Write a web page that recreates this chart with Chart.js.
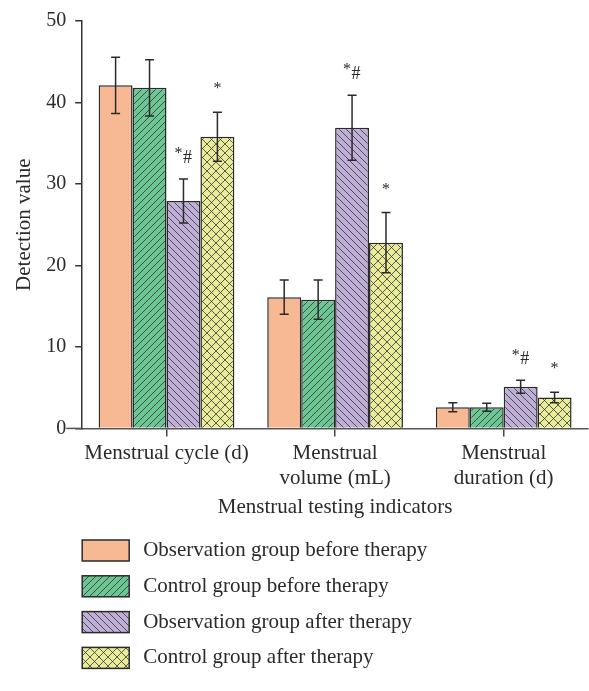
<!DOCTYPE html>
<html><head><meta charset="utf-8">
<script src="https://cdn.jsdelivr.net/npm/chart.js@4"></script>
<style>html,body{margin:0;padding:0;background:#fff;}#wrap{width:589px;height:691px;position:relative;}</style>
</head><body><div id="wrap"><canvas id="c"></canvas></div>
<script>
// ---- data ----
const categories = [["Menstrual cycle (d)"], ["Menstrual", "volume (mL)"], ["Menstrual", "duration (d)"]];
const seriesNames = ["Observation group before therapy", "Control group before therapy", "Observation group after therapy", "Control group after therapy"];
const obsBefore = [42.1, 16.1, 2.6];
const ctrlBefore = [41.8, 15.8, 2.6];
const obsAfter = [27.9, 36.9, 5.1];
const ctrlAfter = [35.8, 22.8, 3.8];
const obsBeforeErr = [3.45, 2.1, 0.55];
const ctrlBeforeErr = [3.45, 2.4, 0.5];
const obsAfterErr = [2.7, 4.0, 0.8];
const ctrlAfterErr = [3.0, 3.7, 0.65];
const obsBeforeSig = ["", "", ""];
const ctrlBeforeSig = ["", "", ""];
const obsAfterSig = ["*#", "*#", "*#"];
const ctrlAfterSig = ["*", "*", "*"];
const yTicks = [0, 10, 20, 30, 40, 50];
const xTitle = "Menstrual testing indicators";
const yTitle = "Detection value";

// ---- styles ----
const FONT = "'Liberation Serif', 'Times New Roman', serif";
const INK = '#2a2a2a';
function makePattern(bg, type, s) {
  if (type === 'solid') return bg;
  const c = document.createElement('canvas');
  c.width = s; c.height = s;
  const g = c.getContext('2d');
  g.fillStyle = bg; g.fillRect(0, 0, s, s);
  g.strokeStyle = 'rgba(45,45,45,0.85)';
  g.lineWidth = 0.9;
  const fwd = () => { g.beginPath(); g.moveTo(-1, s + 1); g.lineTo(s + 1, -1); g.moveTo(-1, 1); g.lineTo(1, -1); g.moveTo(s - 1, s + 1); g.lineTo(s + 1, s - 1); g.stroke(); };
  const back = () => { g.beginPath(); g.moveTo(-1, -1); g.lineTo(s + 1, s + 1); g.moveTo(s - 1, -1); g.lineTo(s + 1, 1); g.moveTo(-1, s - 1); g.lineTo(1, s + 1); g.stroke(); };
  if (type === 'fwd') fwd();
  if (type === 'back') back();
  if (type === 'cross') { fwd(); back(); }
  return g.createPattern(c, 'repeat');
}
const fills = [
  makePattern('#F7B993', 'solid', 7),
  makePattern('#6DC594', 'fwd', 7),
  makePattern('#BFAFD6', 'back', 7),
  makePattern('#E9EC9B', 'cross', 9)
];
const values = [obsBefore, ctrlBefore, obsAfter, ctrlAfter];
const errs = [obsBeforeErr, ctrlBeforeErr, obsAfterErr, ctrlAfterErr];
const sigs = [obsBeforeSig, ctrlBeforeSig, obsAfterSig, ctrlAfterSig];

const datasets = seriesNames.map((n, i) => ({
  label: n, data: values[i], err: errs[i], sig: sigs[i],
  backgroundColor: fills[i], borderColor: INK, borderWidth: 1.5,
  barPercentage: 1.0, categoryPercentage: 0.805
}));

const extras = {
  id: 'extras',
  afterDatasetsDraw(chart) {
    const ctx = chart.ctx, y = chart.scales.y;
    ctx.save();
    chart.data.datasets.forEach((ds, di) => {
      const meta = chart.getDatasetMeta(di);
      meta.data.forEach((bar, i) => {
        const v = ds.data[i], e = ds.err[i];
        const yt = y.getPixelForValue(v + e), yb = y.getPixelForValue(v - e);
        ctx.strokeStyle = INK; ctx.lineWidth = 1.5;
        ctx.beginPath();
        ctx.moveTo(bar.x, yt); ctx.lineTo(bar.x, yb);
        ctx.moveTo(bar.x - 4.5, yt); ctx.lineTo(bar.x + 4.5, yt);
        ctx.moveTo(bar.x - 4.5, yb); ctx.lineTo(bar.x + 4.5, yb);
        ctx.stroke();
        const s = ds.sig[i];
        if (s) {
          ctx.fillStyle = INK;
          ctx.textAlign = 'center'; ctx.textBaseline = 'middle';
          if (s === '*#') {
            ctx.font = '16px ' + FONT;
            ctx.fillText('*', bar.x - 5, yt - 25);
            ctx.font = '18px ' + FONT;
            ctx.fillText('#', bar.x + 4, yt - 21);
          } else {
            ctx.font = '16px ' + FONT;
            ctx.fillText('*', bar.x, yt - 23);
          }
        }
      });
    });
    // x axis line extension to the left of the y axis
    const a = chart.chartArea;
    ctx.strokeStyle = '#555'; ctx.lineWidth = 1.5;
    ctx.beginPath(); ctx.moveTo(a.left - 16, a.bottom); ctx.lineTo(a.left, a.bottom); ctx.stroke();
    // legend
    const lx = a.left, ly0 = 540, step = 35.8;
    chart.data.datasets.forEach((ds, di) => {
      const top = ly0 + di * step;
      ctx.fillStyle = ds.backgroundColor;
      ctx.fillRect(lx, top, 47, 21);
      ctx.strokeStyle = INK; ctx.lineWidth = 1.5;
      ctx.strokeRect(lx, top, 47, 21);
      ctx.fillStyle = INK; ctx.font = '21px ' + FONT;
      ctx.textAlign = 'left'; ctx.textBaseline = 'middle';
      ctx.fillText(ds.label, lx + 61, top + 10.5);
    });
    ctx.restore();
  }
};

new Chart(document.getElementById('c'), {
  type: 'bar',
  data: { labels: categories, datasets },
  options: {
    responsive: true, maintainAspectRatio: false, animation: false,
    layout: { padding: { top: 12, right: 1, left: 12, bottom: 171 } },
    plugins: { legend: { display: false }, tooltip: { enabled: false } },
    scales: {
      x: {
        grid: { offset: false, drawOnChartArea: false, tickLength: 8, color: '#444', lineWidth: 1.5 },
        border: { color: '#555', width: 1.5 },
        ticks: { color: INK, font: { family: FONT, size: 21, lineHeight: 1.2 }, padding: 4, maxRotation: 0 },
        title: { display: true, text: xTitle, color: INK, font: { family: FONT, size: 21 }, padding: { top: 0, bottom: 0 } }
      },
      y: {
        min: 0, max: 50,
        afterBuildTicks(s) { s.ticks = yTicks.map(v => ({ value: v })); },
        grid: { drawOnChartArea: false, tickLength: 7, color: '#333', lineWidth: 1.5 },
        border: { color: '#333', width: 1.5 },
        ticks: { color: INK, font: { family: FONT, size: 20 }, padding: 9 },
        title: { display: true, text: yTitle, color: INK, font: { family: FONT, size: 21 }, padding: { top: 0, bottom: 0 } }
      }
    }
  },
  plugins: [extras]
});
</script></body></html>
